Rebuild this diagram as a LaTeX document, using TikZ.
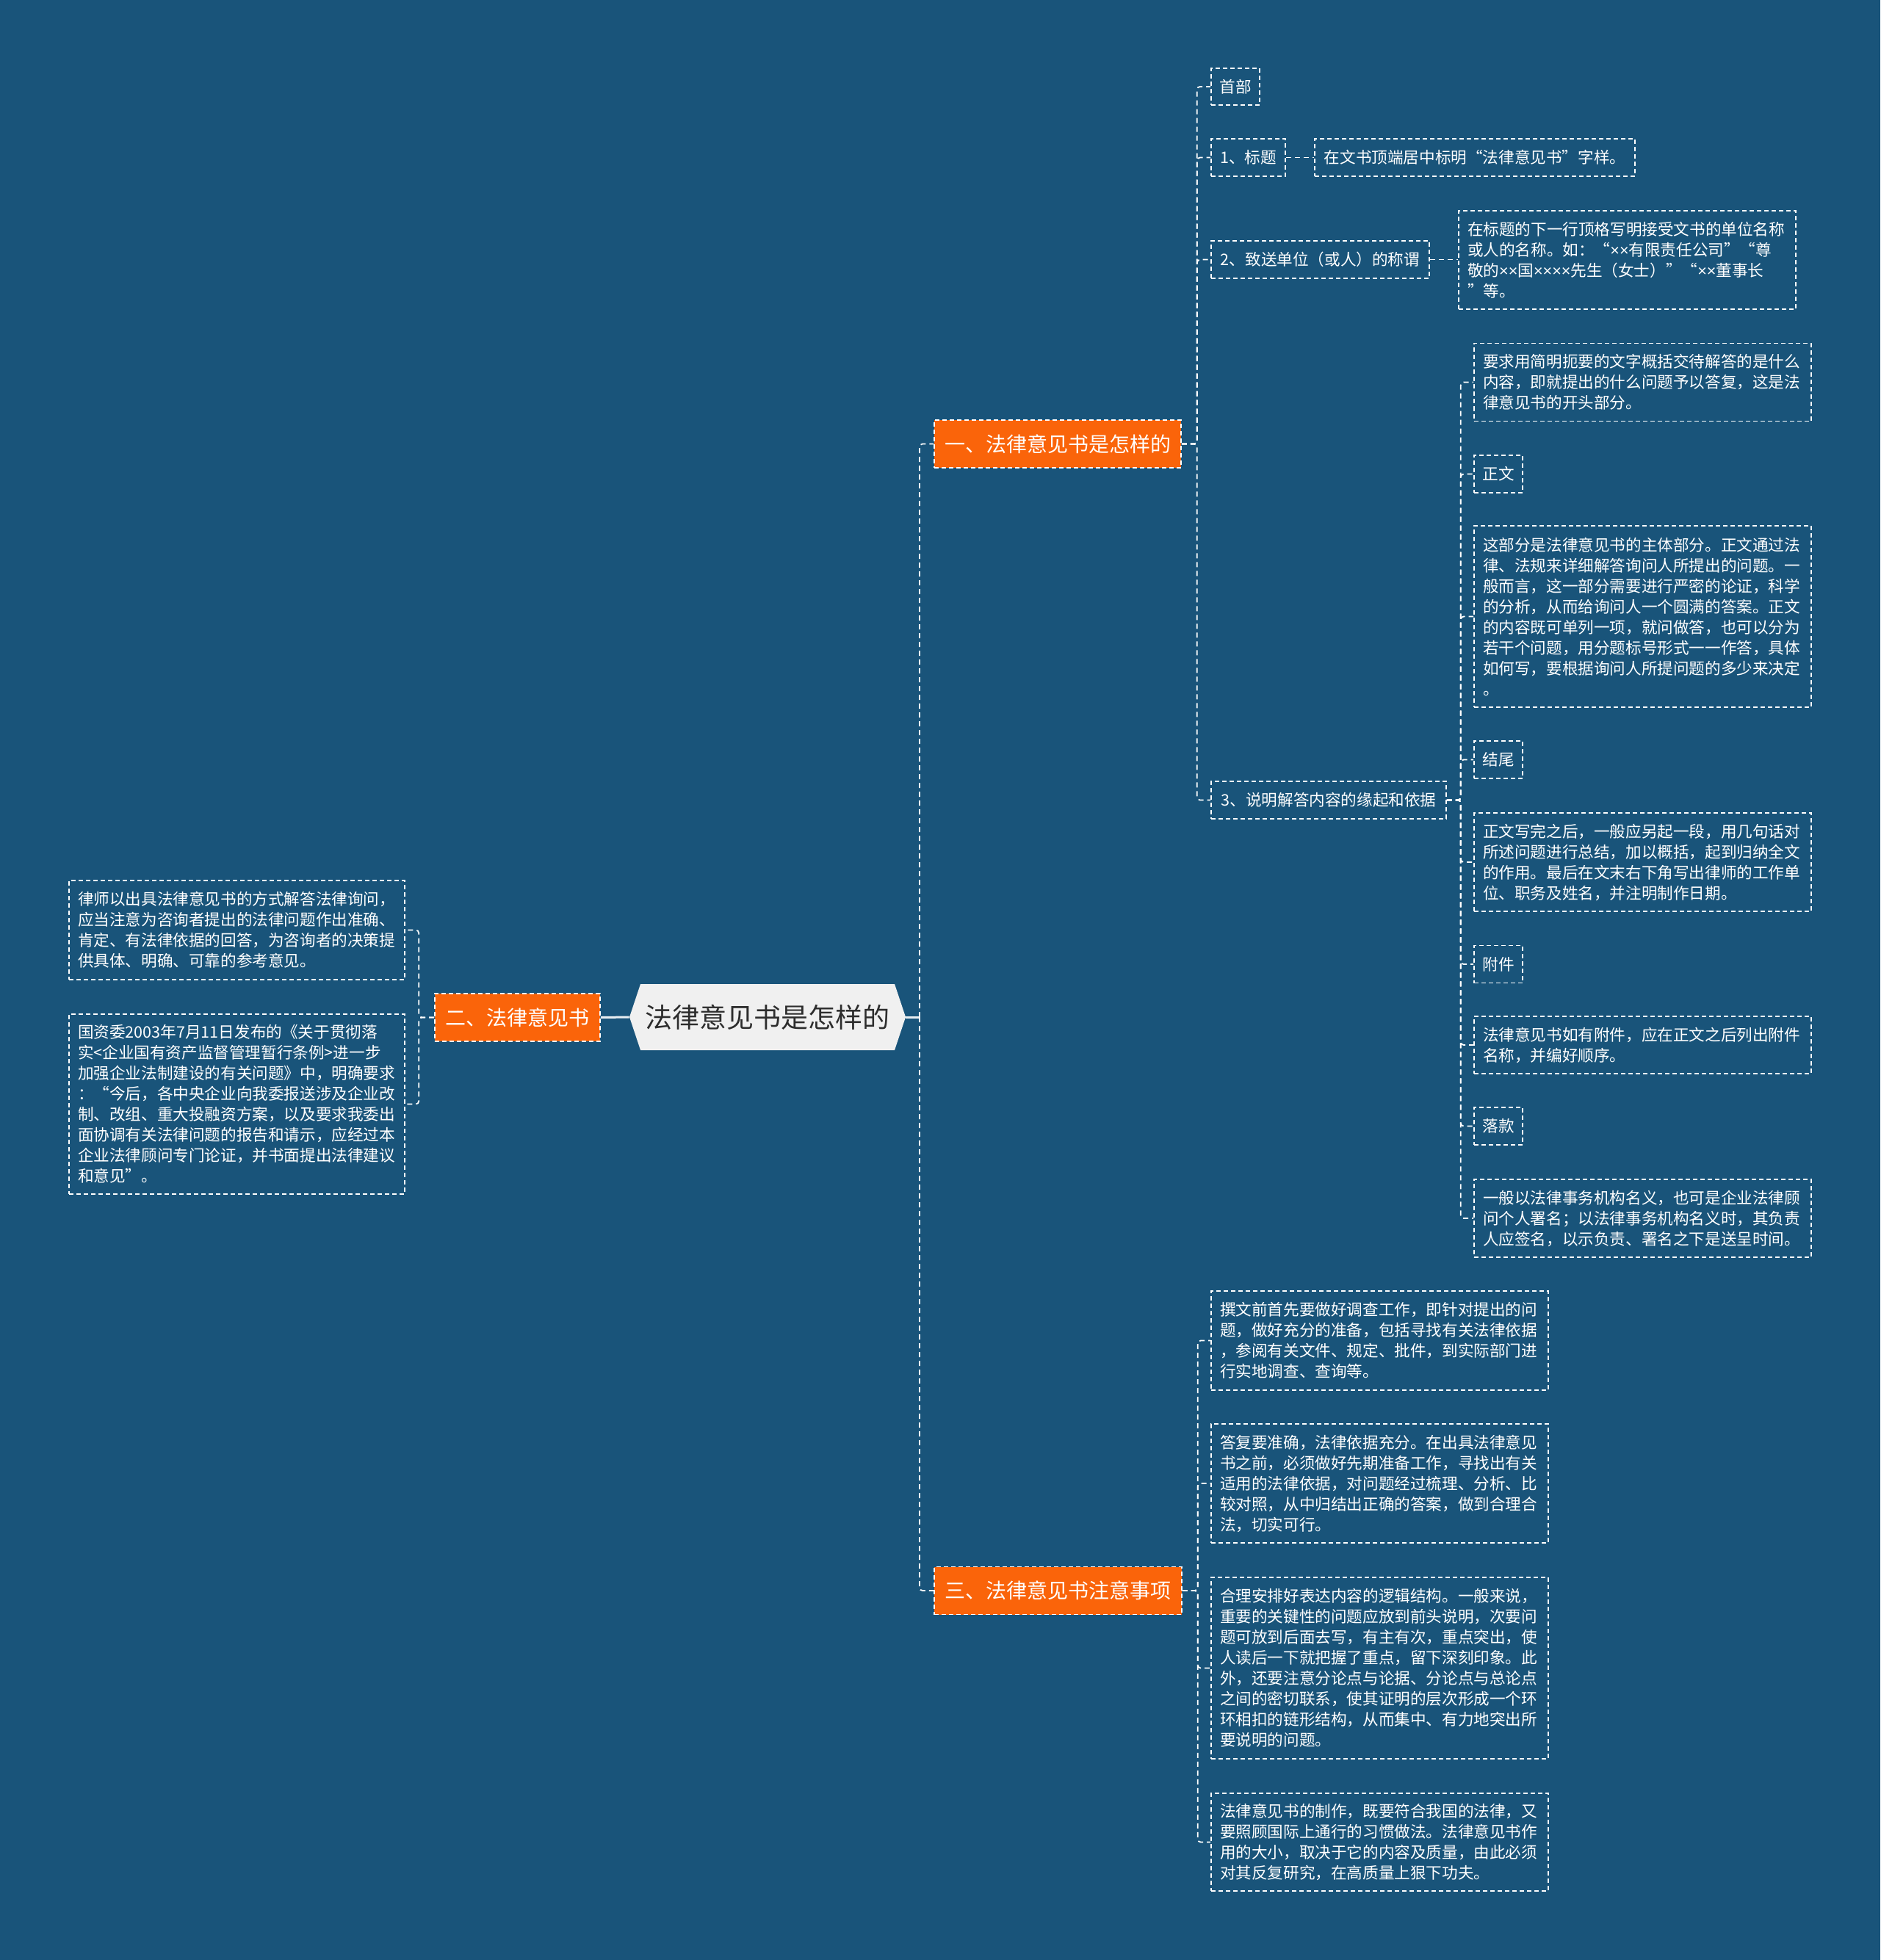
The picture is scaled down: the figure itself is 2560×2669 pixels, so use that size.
\documentclass[tikz,border=0pt]{standalone}
\usepackage{fontspec}
\newfontfamily\cjk{Noto Sans CJK SC}
\newfontfamily\latn{Liberation Sans}
\newcommand{\xx}{{\latn ×}}
\definecolor{bgc}{RGB}{25,84,122}
\definecolor{orangec}{RGB}{250,100,10}
\definecolor{rootfill}{RGB}{240,240,240}
\definecolor{roottext}{RGB}{45,45,45}
\begin{document}
\begin{tikzpicture}[x=0.5pt,y=-0.5pt,
  box/.style={draw=white, line width=0.8pt, dash pattern=on 3pt off 2pt, text=white,
    font=\cjk\fontsize{10.8}{14}\selectfont, inner xsep=6pt, inner ysep=0pt, align=left},
  leaf/.style={box, text width=217.5pt, minimum width=229.5pt},
  lleaf/.style={box, text width=216.5pt, minimum width=228.5pt},
  tag/.style={box, align=center, inner xsep=4pt, minimum height=25.5pt},
  branch/.style={fill=orangec, draw=white, line width=0.8pt, dash pattern=on 3pt off 2pt,
    text=white, font=\cjk\fontsize{14}{17}\selectfont, inner xsep=6pt, minimum height=32.5pt},
  conn/.style={draw=white, line width=0.9pt, dash pattern=on 3.5pt off 2.5pt, rounded corners=2pt},
  rootline/.style={draw=white!90!bgc, line width=1.5pt}
]
\fill[bgc] (0,0) rectangle (2560,2669);
\useasboundingbox (0,0) rectangle (2560,2669);

% root
\fill[rootfill] (857,1385) -- (872,1340) -- (1218,1340) -- (1233,1385) -- (1218,1430) -- (872,1430) -- cycle;
\node[minimum width=188pt, minimum height=45pt, inner sep=0pt, text=roottext,
  font=\cjk\fontsize{18.5}{22}\selectfont] (root) at (1045,1385) {法律意见书是怎样的};

% branches
\node[branch, minimum width=168pt] (b1) at (1440,604.5) {一、法律意见书是怎样的};
\node[branch, minimum width=112.5pt] (b2) at (704.5,1385.5) {二、法律意见书};
\node[branch, minimum width=168.5pt] (b3) at (1440.5,2166) {三、法律意见书注意事项};

% branch 1 children
\node[tag, minimum width=33pt, minimum height=25pt] (h1) at (1682,118) {首部};
\node[tag, minimum width=50.5pt] (h2) at (1699.5,214.5) {1、标题};
\node[tag, minimum width=218pt] (h2a) at (2008,214.5) {在文书顶端居中标明“法律意见书”字样。};
\node[tag, minimum width=148.5pt] (h3) at (1797.5,353.5) {2、致送单位（或人）的称谓};
\node[leaf, minimum height=67pt] (h3a) at (2215.5,354) {在标题的下一行顶格写明接受文书的单位名称\\或人的名称。如：“\xx\xx 有限责任公司”“尊\\敬的\xx\xx 国\xx\xx\xx\xx 先生（女士）”“\xx\xx 董事长\\”等。};
\node[tag, minimum width=160pt] (h4) at (1809,1089.5) {3、说明解答内容的缘起和依据};

% level 3 under h4
\node[leaf, minimum height=53pt] (k1) at (2236.5,520.5) {要求用简明扼要的文字概括交待解答的是什么\\内容，即就提出的什么问题予以答复，这是法\\律意见书的开头部分。};
\node[tag, minimum width=33pt] (k2) at (2040,645.5) {正文};
\node[leaf, minimum height=123.5pt] (k3) at (2236.5,839.5) {这部分是法律意见书的主体部分。正文通过法\\律、法规来详细解答询问人所提出的问题。一\\般而言，这一部分需要进行严密的论证，科学\\的分析，从而给询问人一个圆满的答案。正文\\的内容既可单列一项，就问做答，也可以分为\\若干个问题，用分题标号形式一一作答，具体\\如何写，要根据询问人所提问题的多少来决定\\。};
\node[tag, minimum width=33pt] (k4) at (2040,1034.5) {结尾};
\node[leaf, minimum height=67pt] (k5) at (2236.5,1174) {正文写完之后，一般应另起一段，用几句话对\\所述问题进行总结，加以概括，起到归纳全文\\的作用。最后在文末右下角写出律师的工作单\\位、职务及姓名，并注明制作日期。};
\node[tag, minimum width=33pt] (k6) at (2040,1313) {附件};
\node[leaf, minimum height=39pt] (k7) at (2236.5,1423) {法律意见书如有附件，应在正文之后列出附件\\名称，并编好顺序。};
\node[tag, minimum width=33pt] (k8) at (2040,1533.5) {落款};
\node[leaf, minimum height=53pt] (k9) at (2236.5,1659) {一般以法律事务机构名义，也可是企业法律顾\\问个人署名；以法律事务机构名义时，其负责\\人应签名，以示负责、署名之下是送呈时间。};

% branch 3 children
\node[leaf, minimum height=67.5pt] (c1) at (1878.5,1825.5) {撰文前首先要做好调查工作，即针对提出的问\\题，做好充分的准备，包括寻找有关法律依据\\，参阅有关文件、规定、批件，到实际部门进\\行实地调查、查询等。};
\node[leaf, minimum height=81pt] (c2) at (1878.5,2020) {答复要准确，法律依据充分。在出具法律意见\\书之前，必须做好先期准备工作，寻找出有关\\适用的法律依据，对问题经过梳理、分析、比\\较对照，从中归结出正确的答案，做到合理合\\法，切实可行。};
\node[leaf, minimum height=123.5pt] (c3) at (1878.5,2271.5) {合理安排好表达内容的逻辑结构。一般来说，\\重要的关键性的问题应放到前头说明，次要问\\题可放到后面去写，有主有次，重点突出，使\\人读后一下就把握了重点，留下深刻印象。此\\外，还要注意分论点与论据、分论点与总论点\\之间的密切联系，使其证明的层次形成一个环\\环相扣的链形结构，从而集中、有力地突出所\\要说明的问题。};
\node[leaf, minimum height=66.5pt] (c4) at (1878.5,2508.5) {法律意见书的制作，既要符合我国的法律，又\\要照顾国际上通行的习惯做法。法律意见书作\\用的大小，取决于它的内容及质量，由此必须\\对其反复研究，在高质量上狠下功夫。};

% branch 2 children
\node[lleaf, minimum height=67.5pt] (l1) at (322.5,1266.5) {律师以出具法律意见书的方式解答法律询问，\\应当注意为咨询者提出的法律问题作出准确、\\肯定、有法律依据的回答，为咨询者的决策提\\供具体、明确、可靠的参考意见。};
\node[lleaf, minimum height=122.5pt] (l2) at (322.5,1503.5) {国资委2003年7月11日发布的《关于贯彻落\\实<企业国有资产监督管理暂行条例>进一步\\加强企业法制建设的有关问题》中，明确要求\\：“今后，各中央企业向我委报送涉及企业改\\制、改组、重大投融资方案，以及要求我委出\\面协调有关法律问题的报告和请示，应经过本\\企业法律顾问专门论证，并书面提出法律建议\\和意见”。};

% connectors from root
\coordinate (rt) at (1252,1385);
\draw[rootline] (root.east) -- (rt);
\draw[conn] (rt) |- (b1.west);
\draw[conn] (rt) |- (b3.west);
\draw[rootline] (root.west) -- (b2.east);

% branch 1
\foreach \n in {h1,h2,h3,h4} \draw[conn] (b1.east) -- ++(21,0) |- (\n.west);
\draw[conn] (h2.east) -- (h2a.west);
\draw[conn] (h3.east) -- (h3.east -| h3a.west);
\foreach \n in {k1,k2,k3,k4,k5,k6,k7,k8,k9} \draw[conn] (h4.east) -- ++(19,0) |- (\n.west);

% branch 3
\foreach \n in {c1,c2,c3,c4} \draw[conn] (b3.east) -- ++(21,0) |- (\n.west);

% branch 2
\foreach \n in {l1,l2} \draw[conn] (b2.west) -- ++(-21,0) |- (\n.east);
\end{tikzpicture}
\end{document}
